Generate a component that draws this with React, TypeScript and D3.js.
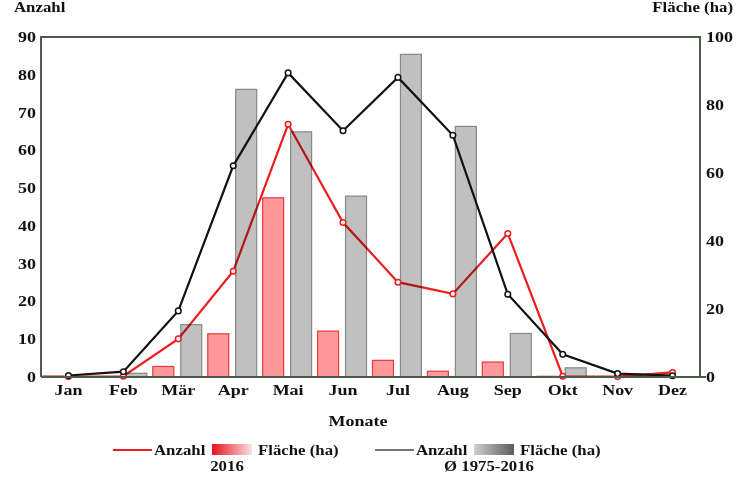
import React, { useRef, useEffect } from "react";
import * as d3 from "d3";

const months = ["Jan", "Feb", "Mär", "Apr", "Mai", "Jun", "Jul", "Aug", "Sep", "Okt", "Nov", "Dez"];
// Anzahl (left axis)
const anzahl2016 = [0.1, 0.2, 10.1, 28, 66.9, 40.9, 25.1, 22, 38, 0.2, 0.1, 1.2];
const anzahlAvg = [0.4, 1.4, 17.5, 55.9, 80.5, 65.2, 79.3, 64, 21.9, 6, 0.9, 0.35];
// Fläche in ha (right axis)
const flaeche2016 = [0.3, 0, 3.1, 12.7, 52.7, 13.5, 4.9, 1.7, 4.4, 0.2, 0, 0];
const flaecheAvg = [0, 1.1, 15.4, 84.6, 72.1, 53.2, 94.9, 73.7, 12.8, 2.7, 0.2, 0];
const leftTicks = [0, 10, 20, 30, 40, 50, 60, 70, 80, 90];
const rightTicks = [0, 20, 40, 60, 80, 100];

const FONT = "'Liberation Serif', 'Times New Roman', serif";
const SX = 1.2; // text in the original is stretched horizontally

const App = () => {
  const ref = useRef<SVGSVGElement>(null);

  useEffect(() => {
    const svg = d3.select(ref.current);
    svg.selectAll("*").remove();

    const W = 756;
    const H = 490;
    const left = 41;
    const right = 700;
    const top = 37;
    const bottom = 377;

    svg.attr("width", W).attr("height", H).style("font-family", FONT);

    const defs = svg.append("defs");
    const gr = defs.append("linearGradient").attr("id", "gradRed");
    gr.append("stop").attr("offset", "0%").attr("stop-color", "#e8101a");
    gr.append("stop").attr("offset", "100%").attr("stop-color", "#fbe2e4");
    const gg = defs.append("linearGradient").attr("id", "gradGray");
    gg.append("stop").attr("offset", "0%").attr("stop-color", "#cfcfcf");
    gg.append("stop").attr("offset", "100%").attr("stop-color", "#5c5c5c");

    const x = d3.scaleBand<string>().domain(months).range([left, right]).padding(0);
    const x1 = d3
      .scaleBand<string>()
      .domain(["r", "g"])
      .range([2, x.bandwidth() - 4])
      .paddingInner(0.25);
    const yL = d3.scaleLinear().domain([0, 90]).range([bottom, top]);
    const yR = d3.scaleLinear().domain([0, 100]).range([bottom, top]);
    const cx = (m: string) => (x(m) as number) + x.bandwidth() / 2;

    const axisColor = "#4d5a4d";

    // text helper: bold serif, stretched
    const label = (
      parent: any,
      tx: number,
      ty: number,
      str: string | number,
      anchor = "start",
      size = 15
    ) =>
      parent
        .append("text")
        .attr("transform", `translate(${tx},${ty}) scale(${SX},1)`)
        .attr("text-anchor", anchor)
        .attr("font-size", size)
        .attr("font-weight", "bold")
        .attr("fill", "#111")
        .text(str);

    const lineL = d3
      .line<number>()
      .x((d, i) => cx(months[i]))
      .y((d) => yL(d));

    // red line (under bars)
    svg
      .append("path")
      .datum(anzahl2016)
      .attr("d", lineL)
      .attr("fill", "none")
      .attr("stroke", "#ee1c1c")
      .attr("stroke-width", 2.2);

    // bars
    svg
      .append("g")
      .selectAll("rect")
      .data(flaeche2016)
      .enter()
      .append("rect")
      .attr("x", (d, i) => (x(months[i]) as number) + (x1("r") as number))
      .attr("width", x1.bandwidth())
      .attr("y", (d) => yR(d))
      .attr("height", (d) => yR(0) - yR(d))
      .attr("fill", "#ff9a9c")
      .attr("stroke", "#e8383c")
      .attr("stroke-width", 1.2)
      .style("mix-blend-mode", "multiply");

    svg
      .append("g")
      .selectAll("rect")
      .data(flaecheAvg)
      .enter()
      .append("rect")
      .attr("x", (d, i) => (x(months[i]) as number) + (x1("g") as number))
      .attr("width", x1.bandwidth())
      .attr("y", (d) => yR(d))
      .attr("height", (d) => yR(0) - yR(d))
      .attr("fill", "#c0c0c0")
      .attr("stroke", "#888")
      .attr("stroke-width", 1.2)
      .style("mix-blend-mode", "multiply");

    // black line
    svg
      .append("path")
      .datum(anzahlAvg)
      .attr("d", lineL)
      .attr("fill", "none")
      .attr("stroke", "#111")
      .attr("stroke-width", 2.2);

    const markers = (data: number[], color: string) =>
      svg
        .append("g")
        .selectAll("circle")
        .data(data)
        .enter()
        .append("circle")
        .attr("cx", (d, i) => cx(months[i]))
        .attr("cy", (d) => yL(d))
        .attr("r", 2.8)
        .attr("fill", "#fff")
        .attr("stroke", color)
        .attr("stroke-width", 1.5);
    markers(anzahl2016, "#ee1c1c");
    markers(anzahlAvg, "#111");

    // frame
    svg
      .append("path")
      .attr("d", `M${left},${bottom}V${top}H${right}V${bottom}`)
      .attr("fill", "none")
      .attr("stroke", axisColor)
      .attr("stroke-width", 2);
    svg
      .append("line")
      .attr("x1", left)
      .attr("x2", right + 6)
      .attr("y1", bottom)
      .attr("y2", bottom)
      .attr("stroke", axisColor)
      .attr("stroke-width", 2);

    const gL = svg.append("g");
    leftTicks.forEach((t) => label(gL, 36, yL(t) + 5, t, "end"));
    const gR = svg.append("g");
    rightTicks.forEach((t) => label(gR, 706, yR(t) + 5, t, "start"));
    const gM = svg.append("g");
    months.forEach((m) => label(gM, cx(m), 395, m, "middle"));

    label(svg, 14, 12, "Anzahl", "start", 14);
    label(svg, 733, 12, "Fläche (ha)", "end", 14);
    label(svg, 358, 426, "Monate", "middle", 15);

    // legend
    const lg = svg.append("g");
    const legendItem = (
      x0: number,
      lineColor: string,
      grad: string,
      caption: string,
      capX: number
    ) => {
      lg.append("line")
        .attr("x1", x0)
        .attr("x2", x0 + 39)
        .attr("y1", 450)
        .attr("y2", 450)
        .attr("stroke", lineColor)
        .attr("stroke-width", 2);
      label(lg, x0 + 41, 455, "Anzahl", "start", 14);
      lg.append("rect")
        .attr("x", x0 + 99)
        .attr("y", 444)
        .attr("width", 40)
        .attr("height", 11)
        .attr("fill", `url(#${grad})`);
      label(lg, x0 + 145, 455, "Fläche (ha)", "start", 14);
      label(lg, capX, 471, caption, "middle", 14);
    };
    legendItem(113, "#ee1c1c", "gradRed", "2016", 227);
    legendItem(375, "#777", "gradGray", "Ø 1975-2016", 489);
  }, []);

  return <svg ref={ref} style={{ display: "block", position: "absolute", left: 0, top: 0 }} />;
};

export default App;
